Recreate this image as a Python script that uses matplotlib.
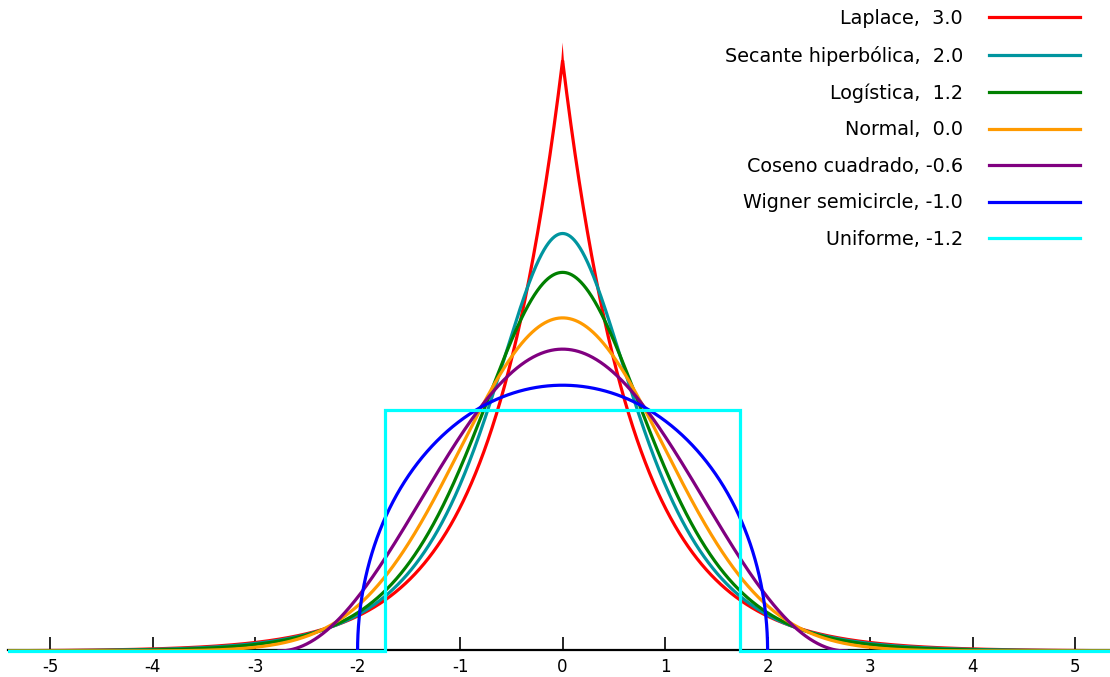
import numpy as np
import matplotlib

matplotlib.use("Agg")
import matplotlib.pyplot as plt
from matplotlib.patches import Polygon

# distributions with unit variance, labelled by excess kurtosis
names = ["Laplace", "Secante hiperbólica", "Logística", "Normal",
         "Coseno cuadrado", "Wigner semicircle", "Uniforme"]
kurtosis = [3.0, 2.0, 1.2, 0.0, -0.6, -1.0, -1.2]
colors = ["#ff0000", "#00959f", "#008000", "#ff9a00",
          "#800080", "#0000ff", "#00ffff"]
xticks = [-5, -4, -3, -2, -1, 0, 1, 2, 3, 4, 5]
xtick_labels = ["-5", "-4", "-3", "-2", "-1", "0", "1", "2", "3", "4", "5"]

XMIN, XMAX = -5.41, 5.34


def pdf_curves():
    x = np.linspace(XMIN, XMAX, 4001)
    x = np.sort(np.append(x, 0.0))
    out = []
    b = 1 / np.sqrt(2)
    out.append((x, np.exp(-np.abs(x) / b) / (2 * b)))
    out.append((x, 0.5 / np.cosh(np.pi * x / 2)))
    s = np.sqrt(3) / np.pi
    e = np.exp(-np.abs(x) / s)
    out.append((x, e / (s * (1 + e) ** 2)))
    out.append((x, np.exp(-x ** 2 / 2) / np.sqrt(2 * np.pi)))
    sc = 1 / np.sqrt(1 / 3 - 2 / np.pi ** 2)
    xc = np.linspace(-sc, sc, 1001)
    out.append((xc, (1 + np.cos(np.pi * xc / sc)) / (2 * sc)))
    xw = 2 * np.sin(np.linspace(-np.pi / 2, np.pi / 2, 1001))
    out.append((xw, np.sqrt(np.clip(4 - xw ** 2, 0, None)) / (2 * np.pi)))
    a = np.sqrt(3)
    h = 1 / (2 * a)
    out.append((np.array([XMIN, -a, -a, a, a, XMAX]),
                np.array([0, 0, h, h, 0, 0])))
    return out


fig = plt.figure(figsize=(11.1, 6.77), dpi=100)
ax = fig.add_axes([8 / 1110, 0, 1 - 8 / 1110, 1])
ax.set_xlim(XMIN, XMAX)
ax.set_ylim(-26 / 835, 651 / 835)

curves = pdf_curves()
for (x, y), name, k, c in zip(curves, names, kurtosis, colors):
    ax.plot(x, y, color=c, lw=2.3, label=f"{name}, {k:4.1f}",
            solid_joinstyle="miter", zorder=3)

# sharp mitre tip on the Laplace peak (Agg clips long mitres)
lx, ly = curves[0]
peak = ly.max()
px, py = ax.transData.transform((0.0, peak))
inv = ax.transData.inverted()
tip = inv.transform([(px - 1.6, py - 4), (px, py + 18), (px + 1.6, py - 4)])
ax.add_patch(Polygon(tip, closed=True, color=colors[0], lw=0, zorder=3))

for side in ["top", "left", "right"]:
    ax.spines[side].set_visible(False)
ax.spines["bottom"].set_position(("data", 0.0015))
ax.spines["bottom"].set_linewidth(1.6)
ax.spines["bottom"].set_zorder(2)
ax.set_yticks([])
ax.set_xticks(xticks)
ax.set_xticklabels(xtick_labels)
ax.tick_params(axis="x", direction="in", length=9.5, width=1.2,
               pad=6, labelsize=12)

ax.legend(loc="upper right", bbox_to_anchor=(1080 / 1110, 1 - 9 / 677),
          bbox_transform=fig.transFigure, frameon=False, fontsize=13.75,
          markerfirst=False, handlelength=4.76, handletextpad=1.36,
          labelspacing=0.92, borderpad=0, borderaxespad=0)

fig.savefig("out.png", dpi=100)
